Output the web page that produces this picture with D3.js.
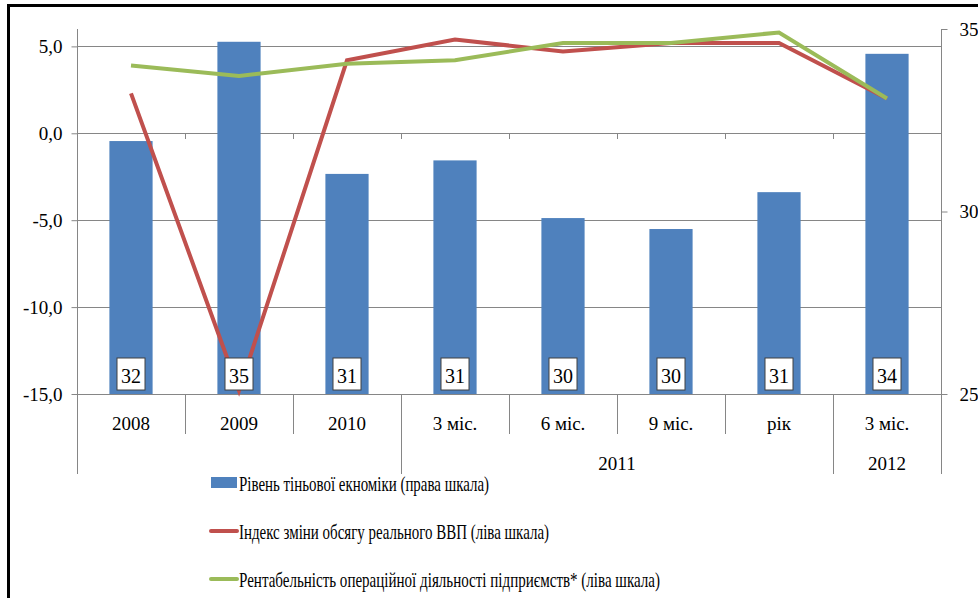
<!DOCTYPE html>
<html>
<head>
<meta charset="utf-8">
<script src="https://cdn.jsdelivr.net/npm/d3@7"></script>
<style>
  body { margin: 0; background: #fff; }
  svg text { font-family: "Liberation Serif", "Times New Roman", serif; fill: #000; }
</style>
</head>
<body>
<svg width="978" height="598"></svg>
<script>
// categories and their group (year) labels on the second row
const categories = ["2008", "2009", "2010", "3 міс.", "6 міс.", "9 міс.", "рік", "3 міс."];
const groupOf = ["", "", "", "2011", "2011", "2011", "2011", "2012"];

// bars - right scale
const shadow = [31.93, 34.65, 31.03, 31.40, 29.82, 29.52, 30.53, 34.32];
const shadowLabels = [32, 35, 31, 31, 30, 30, 31, 34];
// lines - left scale
const gdp = [2.3, -14.8, 4.2, 5.4, 4.7, 5.2, 5.2, 2.0];
const profit = [3.9, 3.3, 4.0, 4.2, 5.2, 5.2, 5.8, 2.0];

const leftTicks = [-15, -10, -5, 0, 5];
const rightTicks = [25, 30, 35];

const legendItems = [
  { name: "Рівень тіньової екноміки (права шкала)", type: "bar", color: "#4F81BD", w: 250 },
  { name: "Індекс зміни обсягу реального ВВП (ліва шкала)", type: "line", color: "#C0504D", w: 310 },
  { name: "Рентабельність операційної діяльності підприємств* (ліва шкала)", type: "line", color: "#9BBB59", w: 421 }
];

var svg = d3.select("svg");
var pLeft = 77, pRight = 941, pTop = 29, pBottom = 394;
var grey = "#868686";

var x = d3.scaleBand().domain(d3.range(categories.length)).range([pLeft, pRight])
  .paddingInner(0.6).paddingOuter(0.3);
var step = x.step();
var yL = d3.scaleLinear().domain([-15, 6]).range([pBottom, pTop]);
var yR = d3.scaleLinear().domain([25, 35]).range([pBottom, pTop]);
var cx = function (i) { return x(i) + x.bandwidth() / 2; };

// frame
svg.append("rect").attr("x", 8.5).attr("y", 5.5).attr("width", 1200).attr("height", 1200)
  .attr("fill", "none").attr("stroke", "#000").attr("stroke-width", 3);

// gridlines
svg.append("g").selectAll("line").data(leftTicks).enter().append("line")
  .attr("x1", pLeft).attr("x2", pRight)
  .attr("y1", d => Math.round(yL(d)) + 0.5).attr("y2", d => Math.round(yL(d)) + 0.5)
  .attr("stroke", grey);

// ticks on the zero line (category boundaries)
svg.append("g").selectAll("line").data(d3.range(1, categories.length)).enter().append("line")
  .attr("x1", d => Math.round(pLeft + d * step) + 0.5).attr("x2", d => Math.round(pLeft + d * step) + 0.5)
  .attr("y1", Math.round(yL(0))).attr("y2", Math.round(yL(0)) + 6)
  .attr("stroke", grey);

// bars
svg.append("g").selectAll("rect").data(shadow).enter().append("rect")
  .attr("x", (d, i) => x(i)).attr("width", x.bandwidth())
  .attr("y", d => yR(d)).attr("height", d => yR(25) - yR(d))
  .attr("fill", "#4F81BD");

// lines
var line = d3.line().x((d, i) => cx(i)).y(d => yL(d));
svg.append("path").datum(gdp).attr("d", line).attr("fill", "none")
  .attr("stroke", "#C0504D").attr("stroke-width", 4);
svg.append("path").datum(profit).attr("d", line).attr("fill", "none")
  .attr("stroke", "#9BBB59").attr("stroke-width", 4);

// data label boxes
var lab = svg.append("g").selectAll("g").data(shadowLabels).enter().append("g")
  .attr("transform", (d, i) => "translate(" + cx(i) + "," + (pBottom - 20) + ")");
lab.append("rect").attr("x", -14).attr("y", -16).attr("width", 28).attr("height", 32)
  .attr("fill", "#fff").attr("stroke", "#404040");
lab.append("text").attr("text-anchor", "middle").attr("y", 9).attr("font-size", 20)
  .text(d => d);

// left axis
var axL = svg.append("g").attr("transform", "translate(" + (pLeft + 0.5) + ",0)")
  .call(d3.axisLeft(yL).tickValues(leftTicks).tickSize(6).tickPadding(9)
    .tickFormat(d => d.toFixed(1).replace(".", ",")));
axL.select(".domain").remove();
axL.selectAll("line").attr("stroke", grey);
axL.selectAll("text").attr("font-size", 19).attr("font-family", "Liberation Serif");
svg.append("line").attr("x1", pLeft + 0.5).attr("x2", pLeft + 0.5).attr("y1", pTop).attr("y2", 474).attr("stroke", grey);

// right axis
var axR = svg.append("g").attr("transform", "translate(" + (pRight + 0.5) + ",0)")
  .call(d3.axisRight(yR).tickValues(rightTicks).tickSize(6).tickPadding(12));
axR.select(".domain").remove();
axR.selectAll("line").attr("stroke", grey);
axR.selectAll("text").attr("font-size", 19).attr("font-family", "Liberation Serif");
svg.append("line").attr("x1", pRight + 0.5).attr("x2", pRight + 0.5).attr("y1", pTop).attr("y2", 474).attr("stroke", grey);

// category labels and separators
svg.append("g").selectAll("text").data(categories).enter().append("text")
  .attr("x", (d, i) => cx(i)).attr("y", 430).attr("text-anchor", "middle").attr("font-size", 19)
  .text(d => d);
svg.append("g").selectAll("line").data(d3.range(1, categories.length)).enter().append("line")
  .attr("x1", d => Math.round(pLeft + d * step) + 0.5).attr("x2", d => Math.round(pLeft + d * step) + 0.5)
  .attr("y1", pBottom).attr("y2", d => groupOf[d] !== groupOf[d - 1] ? 474 : 434)
  .attr("stroke", grey);

// group labels
var groups = d3.groups(d3.range(categories.length).filter(i => groupOf[i]), i => groupOf[i]);
svg.append("g").selectAll("text").data(groups).enter().append("text")
  .attr("x", d => (x(d[1][0]) + x(d[1][d[1].length - 1])) / 2 + x.bandwidth() / 2)
  .attr("y", 470).attr("text-anchor", "middle").attr("font-size", 19)
  .text(d => d[0]);

// legend
var lg = svg.append("g").selectAll("g").data(legendItems).enter().append("g")
  .attr("transform", (d, i) => "translate(211," + (483 + i * 48) + ")");
lg.filter(d => d.type === "bar").append("rect")
  .attr("x", 0).attr("y", -6).attr("width", 26).attr("height", 11).attr("fill", d => d.color);
lg.filter(d => d.type === "line").append("line")
  .attr("x1", 0).attr("x2", 26).attr("y1", 0).attr("y2", 0)
  .attr("stroke", d => d.color).attr("stroke-width", 4).attr("stroke-linecap", "round");
lg.append("text").attr("x", 28).attr("y", 8).attr("font-size", 22)
  .attr("textLength", d => d.w).attr("lengthAdjust", "spacingAndGlyphs")
  .text(d => d.name);
</script>
</body>
</html>
